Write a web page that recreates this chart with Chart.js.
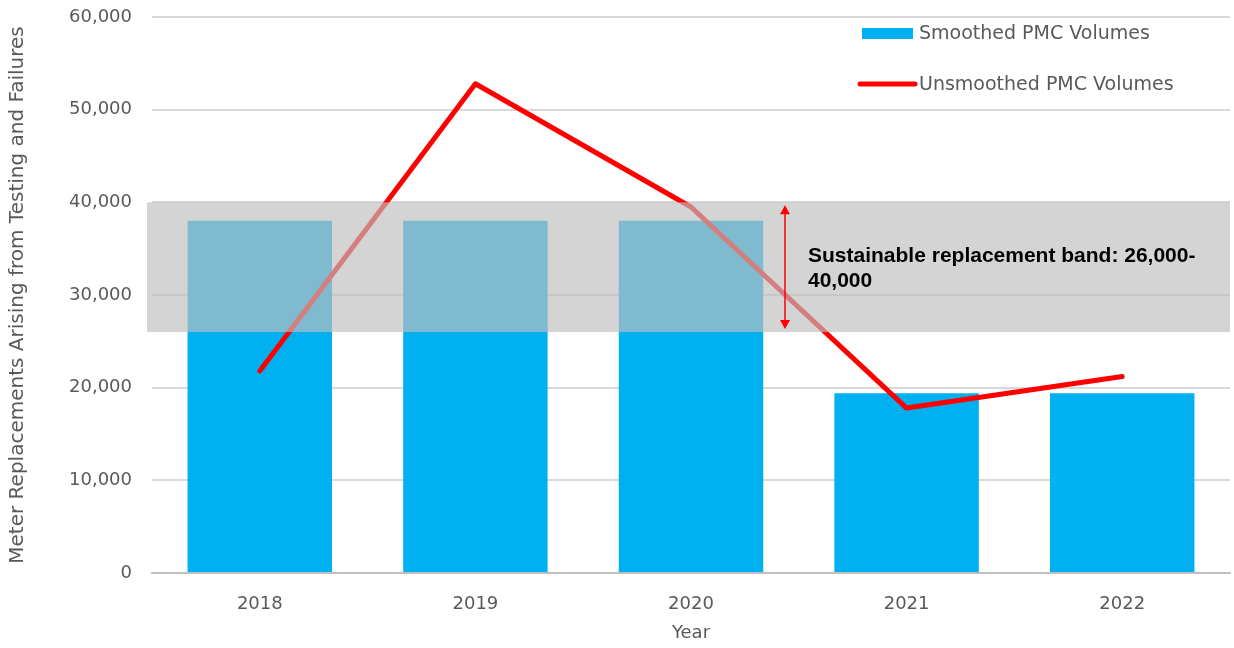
<!DOCTYPE html>
<html lang="en">
<head>
    <meta charset="UTF-8">
    <title>Meter Replacements</title>
    <script src="https://cdn.jsdelivr.net/npm/chart.js@4.4.1/dist/chart.umd.min.js"></script>
    <style>
        html, body {
            margin: 0;
            padding: 0;
            background: #ffffff;
        }
        .wrap {
            width: 1234px;
            height: 648px;
            position: relative;
        }
    </style>
</head>
<body>
    <div class="wrap">
        <canvas id="chart" width="1234" height="648"></canvas>
    </div>

    <script>
        // values
        const years = ['2018', '2019', '2020', '2021', '2022'];
        const smoothedVolumes = [38000, 38000, 38000, 19400, 19400];
        const unsmoothedVolumes = [21800, 52800, 39500, 17800, 21200];
        const bandLow = 26000;
        const bandHigh = 40000;
        const bandLabel = ['Sustainable replacement band: 26,000-', '40,000'];

        const textGray = '#595959';
        const uiFont = '"DejaVu Sans", Verdana, sans-serif';

        // grey band laid over everything, then the arrow and its label
        const bandPlugin = {
            id: 'band',
            afterDatasetsDraw(chart) {
                const ctx = chart.ctx;
                const y = chart.scales.y;
                const area = chart.chartArea;
                const top = y.getPixelForValue(bandHigh);
                const bottom = y.getPixelForValue(bandLow);
                ctx.save();
                ctx.fillStyle = 'rgba(190, 190, 190, 0.667)';
                ctx.fillRect(area.left - 5, top, area.right - area.left + 5, bottom - top);

                // double headed arrow
                const ax = 785;
                ctx.strokeStyle = '#ff0000';
                ctx.fillStyle = '#ff0000';
                ctx.lineWidth = 1.5;
                ctx.beginPath();
                ctx.moveTo(ax, top + 6);
                ctx.lineTo(ax, bottom - 6);
                ctx.stroke();
                ctx.beginPath();
                ctx.moveTo(ax, top + 3);
                ctx.lineTo(ax - 5, top + 12);
                ctx.lineTo(ax + 5, top + 12);
                ctx.closePath();
                ctx.fill();
                ctx.beginPath();
                ctx.moveTo(ax, bottom - 3);
                ctx.lineTo(ax - 5, bottom - 12);
                ctx.lineTo(ax + 5, bottom - 12);
                ctx.closePath();
                ctx.fill();

                ctx.fillStyle = '#000000';
                ctx.font = 'bold 21px "Liberation Sans", Arial, sans-serif';
                ctx.textAlign = 'left';
                ctx.textBaseline = 'middle';
                ctx.fillText(bandLabel[0], 808, 256);
                ctx.fillText(bandLabel[1], 808, 281);
                ctx.restore();
            },
            afterDraw(chart) {
                // legend, top right
                const ctx = chart.ctx;
                ctx.save();
                ctx.font = '19px ' + uiFont;
                ctx.textBaseline = 'middle';
                ctx.fillStyle = '#00b0f0';
                ctx.fillRect(862, 28, 51, 11);
                ctx.fillStyle = textGray;
                ctx.fillText(chart.data.datasets[1].label, 919, 34);
                ctx.strokeStyle = '#ff0000';
                ctx.lineWidth = 5;
                ctx.lineCap = 'round';
                ctx.beginPath();
                ctx.moveTo(860, 84);
                ctx.lineTo(915, 84);
                ctx.stroke();
                ctx.fillText(chart.data.datasets[0].label, 919, 85);
                ctx.restore();
            }
        };

        const ctx = document.getElementById('chart').getContext('2d');
        new Chart(ctx, {
            data: {
                labels: years,
                datasets: [
                    {
                        type: 'line',
                        label: 'Unsmoothed PMC Volumes',
                        data: unsmoothedVolumes,
                        borderColor: '#ff0000',
                        borderWidth: 5,
                        pointRadius: 0,
                        tension: 0,
                        borderCapStyle: 'round',
                        borderJoinStyle: 'round',
                        order: 0
                    },
                    {
                        type: 'bar',
                        label: 'Smoothed PMC Volumes',
                        data: smoothedVolumes,
                        backgroundColor: '#00b0f0',
                        categoryPercentage: 1,
                        barPercentage: 0.67,
                        order: 1
                    }
                ]
            },
            options: {
                responsive: false,
                animation: false,
                layout: {
                    padding: { top: 17, right: 4, left: 0, bottom: 0 }
                },
                plugins: {
                    legend: { display: false },
                    tooltip: { enabled: false }
                },
                scales: {
                    x: {
                        grid: { display: false },
                        border: { color: '#bfbfbf', width: 2 },
                        ticks: {
                            color: textGray,
                            font: { family: uiFont, size: 18 },
                            padding: 13
                        },
                        title: {
                            display: true,
                            text: 'Year',
                            color: textGray,
                            font: { family: uiFont, size: 18 },
                            padding: { top: 4 }
                        },
                        afterFit(scale) { scale.height = 75; }
                    },
                    y: {
                        min: 0,
                        max: 60000,
                        grid: {
                            color: '#d9d9d9',
                            lineWidth: 2,
                            tickLength: 20,
                            tickColor: 'rgba(0,0,0,0)'
                        },
                        border: { display: false },
                        ticks: {
                            stepSize: 10000,
                            color: textGray,
                            font: { family: uiFont, size: 18 },
                            padding: 0,
                            callback: v => v.toLocaleString('en-US')
                        },
                        title: {
                            display: true,
                            text: 'Meter Replacements Arising from Testing and Failures',
                            color: textGray,
                            font: { family: uiFont, size: 20 },
                            padding: { top: 6, bottom: 2 }
                        },
                        afterFit(scale) { scale.width = 152; }
                    }
                }
            },
            plugins: [bandPlugin]
        });
    </script>
</body>
</html>
